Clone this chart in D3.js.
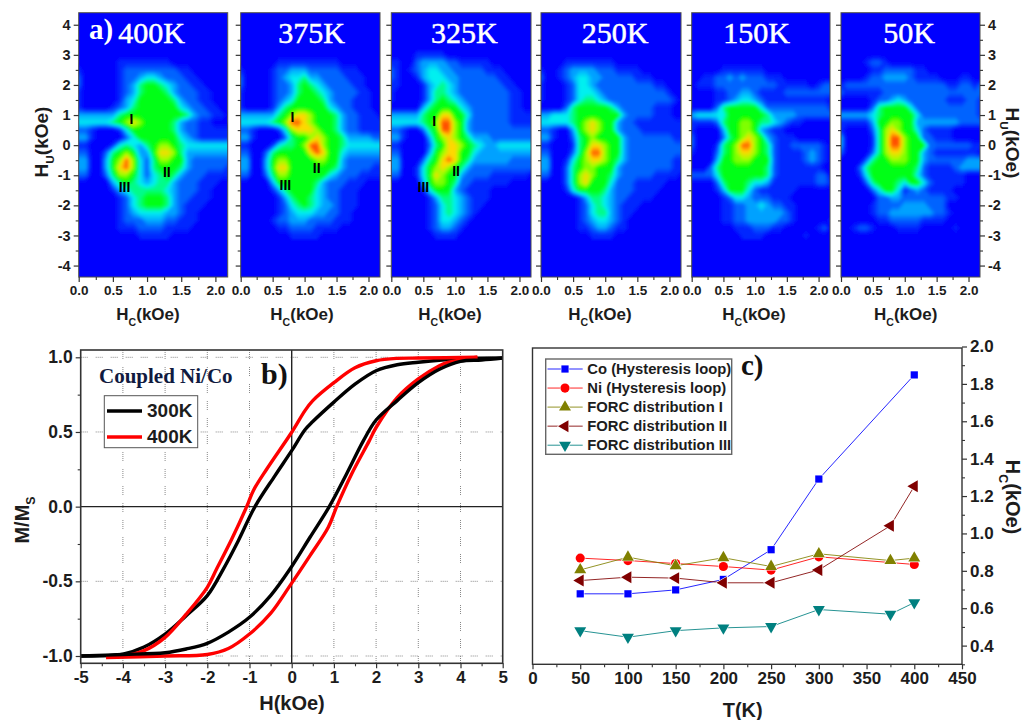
<!DOCTYPE html>
<html><head><meta charset="utf-8">
<style>
html,body{margin:0;padding:0;background:#fff}
svg{display:block}
text{font-family:"Liberation Sans",Arial,sans-serif;font-weight:bold;fill:#1c1c1c}
.serif{font-family:"Liberation Serif",serif}
</style>
<script src="https://cdn.jsdelivr.net/npm/d3@7"></script>
</head><body>
<svg id="c" width="1024" height="720"></svg>
<script>
// ---------- FORC maps: intensity level (0-9).
// Rows run Hu = 3.0 .. -3.0 in 0.25 steps, columns Hc = 0 .. 2.2 in 0.1 steps.
const forcHuStep = 0.25, forcHcStep = 0.1, forcHuTop = 3.0;
const forc400 = ["00000000000000000000000","00000011111111000000000","10000012222222211000000","20000012234432221100000","20000012356654322110000","10000012356665322211000","10000013466666532211000","10000123566666643221100","33333356666666665322110","44444567876666532211000","22100014666666532211111","33100002466666643211111","11000145435677654444444","22002567633688753333333","33003679742577663222222","33003689742566653222221","22002577642456532221111","00000356543455322211100","00000134555554322211000","00000012456665322111000","00000012456665321110000","00000012344443321100000","00000012223332211100000","00000011122221111000000","00000000011111000000000"];
const forc375 = ["00000000000000000000000","00000011111111110000000","10000122333222221110000","20000123445332222111000","20000122356543222211000","10000122356654322221100","10000123466665322211100","10000135666666432211100","33333356788766653221110","44444567998766653221111","22100014788876653221111","33100002566787665333322","11000145567997665444444","22002566666898664333333","33003677666677663222222","33003688666666653222211","22002577666666432221111","00000366666653222111000","00000135666643221110000","00000013566543221110000","00000012456543321110000","00000012344433221100000","00000122333222211100000","00000011222211110000000","00000000111110000000000"];
const forc325 = ["00001111100000000000000","11002333322111110000000","21012344332222211100000","21001344433222222110000","11000134543222222211000","10000135543222222221100","10000135654322222221100","00000356666432222221100","33333566886642222221111","44444567997632222221111","22100256997632222222222","33100036787653332222222","11000025688765433444444","22000036788664333333333","33000256898653333332222","33001467876532222222222","22001468766322221111110","00000367765221111110000","00000146663211110000000","00000013554321110000000","00000012454321100000000","00000012454321000000000","00000012443210000000000","00000012332100000000000","00000001111000000000000"];
const forc250 = ["00000000000000000000000","00001111111100000000000","10012333322211110000000","20012344332222211100000","10001244322222222211000","10001244432222222222100","10001245543222222222210","00002566666532222211100","33444566666663222211100","44444567876632211111111","22100367876632221111111","33100256766663222222211","11000156887663222222222","22000257997663222222222","33001467887653222222211","33002567766632222222211","22002578766532222211110","00002578666422211111000","00001466665322211110000","00000013554322111100000","00000012454321110000000","00000012455321100000000","00000012344321000000000","00000011233211000000000","00000000111100000000000"];
const forc150 = ["00000000000000000000000","00000000000000000000000","00000111111100000000000","00112232322211100000000","01112222222222111110122","00001122332111122222222","00001123443211111111110","00002566666422222222221","34444466666653333222222","11112566776554321100000","10000366776321100000000","20000256787632111000000","20001567997652112222210","10002567887652111123210","00003667776662111123210","00025666666652111111100","22224666666652111111220","00002566654431111111221","00001366642111111000000","00000124432221110000000","00000112233432211000000","00000112233333321000000","00000112233333221000001","00000001112221100000120","00000000111100000010000"];
const forc50 = ["00000000000000000000000","00001221000000000000000","00000112222211000000000","00001223333211110001100","12222222222222222112212","21111112222222222222222","00000122343222222111221","00000256666422222222221","33333456666642222222221","11111366776633333332222","10000257876642111100000","30000157997662211100000","30000157997666222222211","20000257887663211111110","00002566777663222222333","00025666666652111123333","00014666666642111111000","00002566654664211111000","00000246641232111100000","00000022332222222110000","00000122223333222000000","00000122333333322100000","00000011222221111000000","00122100011110000010000","00000000000000000000000"];
const forcMaps = [forc400, forc375, forc325, forc250, forc150, forc50];
const forcTitles = ["400K","375K","325K","250K","150K","50K"];
const forcLevels = [0,1,2,3,4,5,6,7,8,9];
const forcColors = ["#0000ff","#0028ff","#0064ff","#00b0ff","#00f0f0","#00ff70","#00ff00","#a0ff00","#ffd800","#ff5000"];
const hcTicks = [0,0.5,1,1.5,2], hcMinor = [0.25,0.75,1.25,1.75];
const huTicks = [-4,-3,-2,-1,0,1,2,3,4], huMinor = [-3.5,-2.5,-1.5,-0.5,0.5,1.5,2.5,3.5];
// peak labels: [panel, text, Hc, Hu]
const peakLabels = [[0,"I",0.77,0.88],[0,"II",1.29,-0.9],[0,"III",0.67,-1.38],[1,"I",0.81,0.92],[1,"II",1.19,-0.75],[1,"III",0.7,-1.33],[2,"I",0.67,0.8],[2,"II",1.01,-0.85],[2,"III",0.5,-1.4]];

// ---------- b) hysteresis loops, H (kOe) vs M/Ms
const h300Down = [[5,0.995],[4,0.99],[3,0.967],[2.5,0.95],[2,0.91],[1.5,0.82],[1,0.70],[0.5,0.57],[0.315,0.515],[0,0.375],[-0.395,0.208],[-0.87,0],[-1.265,-0.228],[-1.62,-0.418],[-2,-0.596],[-2.5,-0.73],[-3,-0.853],[-3.5,-0.94],[-4,-0.987],[-5,-1]];
const h300Up = [[-5,-1],[-4,-0.99],[-3,-0.978],[-2.5,-0.953],[-2,-0.915],[-1.5,-0.84],[-1,-0.741],[-0.5,-0.596],[-0.04,-0.418],[0.434,-0.205],[0.89,0],[1.3,0.219],[1.7,0.442],[2,0.58],[2.5,0.71],[3,0.83],[3.5,0.92],[4,0.973],[4.5,0.982],[5,0.995]];
const h400Down = [[4.4,1],[3,0.995],[2.5,0.993],[2,0.977],[1.5,0.93],[1,0.83],[0.5,0.71],[0.315,0.643],[0,0.498],[-0.59,0.252],[-0.91,0.107],[-1.067,0],[-1.42,-0.217],[-1.78,-0.418],[-2,-0.54],[-2.5,-0.72],[-3,-0.875],[-3.5,-0.964],[-4,-1],[-4.4,-1]];
const h400Up = [[-4.4,-1.01],[-3,-1],[-2,-0.99],[-1.5,-0.95],[-1,-0.853],[-0.5,-0.715],[-0.04,-0.529],[0.434,-0.328],[0.867,-0.138],[1.066,0],[1.42,0.219],[1.84,0.442],[2,0.53],[2.5,0.73],[3,0.855],[3.5,0.944],[3.7,0.966],[4,0.982],[4.4,1]];
const hTicks = [-5,-4,-3,-2,-1,0,1,2,3,4,5], hMinor = [-4.5,-3.5,-2.5,-1.5,-0.5,0.5,1.5,2.5,3.5,4.5];
const mTicks = [-1,-0.5,0,0.5,1], mMinor = [-0.75,-0.25,0.25,0.75];
const hGridX = [-4,-3,-2,-1,1,2,3,4], hGridY = [-1,-0.5,0.5,1];
const loopLegend = ["300K","400K"];

// ---------- c) coercivity vs temperature
const tempAll = [50,100,150,200,250,300,375,400];
const tempNoHidden = [50,100,150,200,250,300,400];
const hcCo = [0.677,0.677,0.698,0.754,0.913,1.291,1.848];
const hcNi = [0.868,0.855,0.839,0.823,0.804,0.875,0.834];
const hcI = [0.805,0.873,0.827,0.870,0.823,0.891,0.855,0.868];
const hcII = [0.748,0.766,0.761,0.736,0.736,0.805,1.041,1.252];
const hcIII = [0.48,0.445,0.48,0.495,0.502,0.593,0.568,0.63];
const tTicks = [0,50,100,150,200,250,300,350,400,450], tMinor = [25,75,125,175,225,275,325,375,425];
const cTicks = [0.4,0.6,0.8,1,1.2,1.4,1.6,1.8,2], cMinor = [0.3,0.5,0.7,0.9,1.1,1.3,1.5,1.7,1.9];
const cNames = ["Co (Hysteresis loop)","Ni (Hysteresis loop)","FORC distribution I","FORC distribution II","FORC distribution III"];
const cColors = ["#0000ff","#ff0000","#808000","#800000","#008080"];

// ---------- drawing
const svg = d3.select("#c");
const defs = svg.append("defs");
defs.append("filter").attr("id","soft").attr("x","-10%").attr("y","-10%").attr("width","120%").attr("height","120%")
  .append("feGaussianBlur").attr("stdDeviation",1.5);

function ticks(g, gen, scale, major, minor, fmt, size){
  const a = g.append("g").call(gen(scale).tickValues(major).tickSize(5).tickPadding(3).tickFormat(fmt));
  a.select(".domain").remove();
  a.selectAll("line").attr("stroke","#333").attr("stroke-width",1.2);
  a.selectAll("text").attr("font-size",size).attr("font-family",'"Liberation Sans"').attr("fill","#1c1c1c");
  if(minor){
    const m = g.append("g").call(gen(scale).tickValues(minor).tickSize(3).tickFormat(""));
    m.select(".domain").remove();
    m.selectAll("line").attr("stroke","#333").attr("stroke-width",1.1);
  }
  return a;
}
function subLabel(x,y,rot,main,sub,rest,size){
  const t = svg.append("text").attr("transform",`translate(${x},${y}) rotate(${rot})`)
    .attr("text-anchor","middle").attr("font-size",size);
  t.append("tspan").text(main);
  t.append("tspan").attr("dy",size*0.33).attr("font-size",size*0.62).text(sub);
  if(rest) t.append("tspan").attr("dy",-size*0.33).text(rest);
}

// a) panels
const panelX = [[78.7,227.7],[240.7,380],[391.3,531],[541,681],[691.7,830],[841,980]];
const titleX = [151.7,311.7,464.3,615,756.7,909];
const hcLabelX = [148,302,450,600,754,905.7];
const huScale = d3.scaleLinear().domain([4.4,-4.38]).range([12.7,277]);
const colorOf = d3.scaleLinear().domain(forcLevels).range(forcColors).clamp(true);
const thresholds = d3.range(0.2,9.8,0.2);
forcMaps.forEach((rows,pi)=>{
  const [x0,x1] = panelX[pi];
  const hc = d3.scaleLinear().domain([0,2.18]).range([x0,x1]);
  const g = svg.append("g");
  const clipId = "clip"+pi;
  defs.append("clipPath").attr("id",clipId).append("rect").attr("x",x0).attr("y",12.7).attr("width",x1-x0).attr("height",264.3);
  const clipG = g.append("g").attr("clip-path",`url(#${clipId})`);
  clipG.append("rect").attr("x",x0).attr("y",12.7).attr("width",x1-x0).attr("height",264.3).attr("fill",forcColors[0]);
  const w = rows[0].length, h = rows.length, pad = 1;
  const vals = [];
  for(let j=0;j<h;j++){
    const r = rows[j].padEnd(w,"0").split("").map(Number);
    for(let i=-pad;i<w+pad;i++) vals.push(r[Math.max(0,Math.min(w-1,i))]);
  }
  const cs = d3.contours().size([w+2*pad,h]).smooth(true).thresholds(thresholds)(vals);
  const toPx = d3.geoTransform({point(x,y){
    this.stream.point(hc((x-0.5-pad)*forcHcStep), huScale(forcHuTop-(y-0.5)*forcHuStep));
  }});
  const path = d3.geoPath(toPx);
  clipG.append("g").attr("filter","url(#soft)").selectAll("path").data(cs).join("path")
    .attr("d",path).attr("fill",d=>colorOf(d.value));
  // frame + axes
  g.append("rect").attr("x",x0).attr("y",12.7).attr("width",x1-x0).attr("height",264.3).attr("fill","none").attr("stroke","#4a4a4a").attr("stroke-width",1);
  ticks(g.append("g").attr("transform",`translate(0,277)`),d3.axisBottom,hc,hcTicks,hcMinor,d3.format(".1f"),13.5);
  const lg = g.append("g").attr("transform",`translate(${x0},0)`);
  ticks(lg,d3.axisLeft,huScale,huTicks,huMinor,pi===0?String:"",14.5);
  if(pi===5){
    ticks(g.append("g").attr("transform",`translate(${x1},0)`),d3.axisRight,huScale,huTicks,huMinor,String,14.5);
  }
  svg.append("text").attr("class","serif").attr("x",titleX[pi]).attr("y",43).attr("text-anchor","middle")
    .attr("font-size",30).style("fill","#fff").style("font-weight","normal").attr("stroke","#fff").attr("stroke-width",0.5).text(forcTitles[pi]);
  subLabel(hcLabelX[pi],320,0,"H","C","(kOe)",17);
  peakLabels.filter(d=>d[0]===pi).forEach(d=>{
    svg.append("text").attr("x",hc(d[2])).attr("y",huScale(d[3])+5).attr("text-anchor","middle")
      .attr("font-size",14).style("fill","#000").text(d[1]);
  });
});
svg.append("text").attr("class","serif").attr("x",89).attr("y",39).attr("font-size",29)
  .style("fill","#fff").style("font-weight","bold").text("a)");
subLabel(48,142,-90,"H","U","(kOe)",19);
subLabel(1006,143,90,"H","U","(kOe)",19);

// b) loops
const xb = d3.scaleLinear().domain([-5,5]).range([80.7,502.7]);
const yb = d3.scaleLinear().domain([-1,1]).range([656,357.3]);
const bTop = 350, bBot = 663.3;
const gb = svg.append("g");
gb.selectAll("line.gx").data(hGridX).join("line").attr("x1",d=>xb(d)).attr("x2",d=>xb(d)).attr("y1",bTop).attr("y2",bBot)
  .attr("stroke","#888").attr("stroke-width",1).attr("stroke-dasharray","1 1 1 1 1 1 1 1 1 8");
gb.selectAll("line.gy").data(hGridY).join("line").attr("y1",d=>yb(d)).attr("y2",d=>yb(d)).attr("x1",xb(-5)).attr("x2",xb(5))
  .attr("stroke","#888").attr("stroke-width",1).attr("stroke-dasharray","1 1 1 1 1 1 1 8");
gb.append("line").attr("x1",xb(0)).attr("x2",xb(0)).attr("y1",bTop).attr("y2",bBot).attr("stroke","#222").attr("stroke-width",1.4);
gb.append("line").attr("y1",yb(0)).attr("y2",yb(0)).attr("x1",xb(-5)).attr("x2",xb(5)).attr("stroke","#222").attr("stroke-width",1.4);
const loopLine = d3.line().x(d=>xb(d[0])).y(d=>yb(d[1])).curve(d3.curveCatmullRom);
[[h300Down,"#000"],[h400Down,"#ff0000"],[h400Up,"#ff0000"],[h300Up,"#000"]].forEach(([d,c])=>{
  gb.append("path").attr("d",loopLine(d)).attr("fill","none").attr("stroke",c).attr("stroke-width",3.4);
});
gb.append("rect").attr("x",xb(-5)).attr("y",bTop).attr("width",xb(5)-xb(-5)).attr("height",bBot-bTop).attr("fill","none").attr("stroke","#333").attr("stroke-width",1.6);
ticks(gb.append("g").attr("transform",`translate(0,${bBot})`),d3.axisBottom,xb,hTicks,hMinor,String,17);
ticks(gb.append("g").attr("transform",`translate(${xb(-5)},0)`),d3.axisLeft,yb,mTicks,mMinor,d=>d.toFixed(1),17.5);
svg.append("text").attr("x",292).attr("y",710).attr("text-anchor","middle").attr("font-size",20).text("H(kOe)");
subLabel(28.5,520,-90,"M/M","S","",20);
svg.append("text").attr("class","serif").attr("x",99).attr("y",383).attr("font-size",21).style("fill","#101a40").text("Coupled Ni/Co");
svg.append("text").attr("class","serif").attr("x",261).attr("y",384).attr("font-size",30).style("fill","#111").text("b)");
svg.append("rect").attr("x",104.3).attr("y",395.7).attr("width",93.4).attr("height",52).attr("fill","#fff").attr("stroke","#555").attr("stroke-width",1);
loopLegend.forEach((t,i)=>{
  const y = 411+i*26;
  svg.append("line").attr("x1",107).attr("x2",142).attr("y1",y).attr("y2",y).attr("stroke",i?"#ff0000":"#000").attr("stroke-width",3.4);
  svg.append("text").attr("x",147).attr("y",y+6).attr("font-size",19).text(t);
});

// c) coercivity
const xc = d3.scaleLinear().domain([0,450]).range([532.5,962]);
const yc = d3.scaleLinear().domain([0.3,2]).range([664.3,346.5]);
const gc = svg.append("g");
gc.append("rect").attr("x",xc(0)).attr("y",348).attr("width",xc(450)-xc(0)).attr("height",664.3-348).attr("fill","none").attr("stroke","#333").attr("stroke-width",1.4);
ticks(gc.append("g").attr("transform","translate(0,664.3)"),d3.axisBottom,xc,tTicks,tMinor,String,17);
ticks(gc.append("g").attr("transform",`translate(${xc(450)},0)`),d3.axisRight,yc,cTicks,cMinor,d=>d.toFixed(1),17);
const series = [[tempNoHidden,hcCo],[tempNoHidden,hcNi],[tempAll,hcI],[tempAll,hcII],[tempAll,hcIII]];
const sym = [
  d3.symbol().type(d3.symbolSquare).size(52),
  d3.symbol().type(d3.symbolCircle).size(66),
  d3.symbol().type(d3.symbolTriangle).size(62)
];
function marker(sel,i,x,y){
  const p = sel.append("path").attr("fill",cColors[i]).attr("stroke","#fff").attr("stroke-width",1.2).attr("paint-order","stroke");
  const s = i===0?sym[0]:i===1?sym[1]:sym[2];
  const rot = i===3?-90:i===4?180:0;
  p.attr("d",s()).attr("transform",`translate(${x},${y}) rotate(${rot})`);
}
series.forEach(([ts,vs],i)=>{
  const pts = ts.map((t,k)=>[t,vs[k]]);
  gc.append("path").attr("d",d3.line().x(d=>xc(d[0])).y(d=>yc(d[1]))(pts)).attr("fill","none").attr("stroke",cColors[i]).attr("stroke-width",1).attr("opacity",0.85);
});
series.forEach(([ts,vs],i)=>{
  ts.forEach((t,k)=>marker(gc,i,xc(t),yc(vs[k])));
});
subLabel(1006,497,90,"H","C","(kOe)",20);
svg.append("text").attr("x",742.7).attr("y",716.7).attr("text-anchor","middle").attr("font-size",20).text("T(K)");
svg.append("text").attr("class","serif").attr("x",741).attr("y",375).attr("font-size",29).style("fill","#111").text("c)");
svg.append("rect").attr("x",545.7).attr("y",359).attr("width",186).attr("height",95.3).attr("fill","#fff").attr("stroke","#666").attr("stroke-width",1.4);
cNames.forEach((n,i)=>{
  const y = 369+i*19.05;
  svg.append("line").attr("x1",547.5).attr("x2",582.7).attr("y1",y).attr("y2",y).attr("stroke",cColors[i]).attr("stroke-width",1).attr("opacity",0.85);
  marker(svg,i,565,y);
  svg.append("text").attr("x",587.3).attr("y",y+5).attr("font-size",14.8).text(n);
});
</script>
</body></html>
